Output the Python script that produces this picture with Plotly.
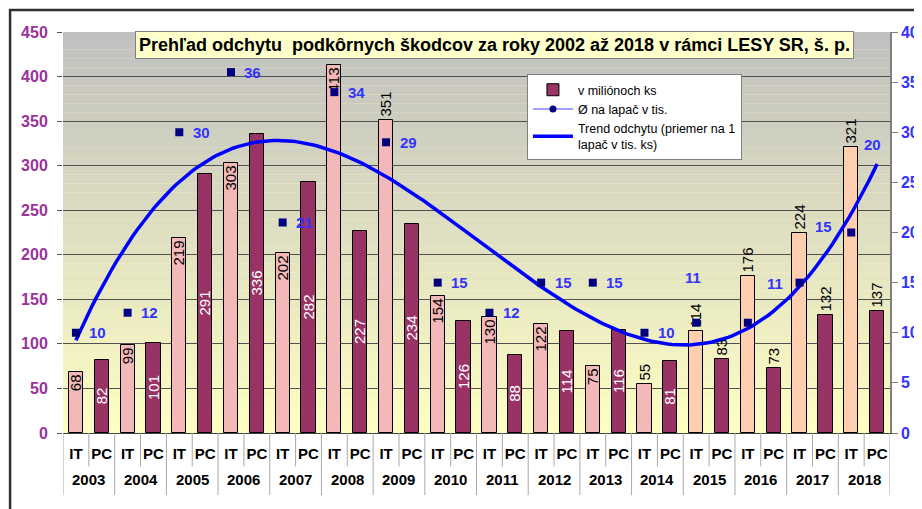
import numpy as np
import plotly.graph_objects as go

# ---------------- data ----------------
years = [str(y) for y in range(2003, 2019)]
sub_labels = ["IT", "PC"]
it_values = [68, 99, 219, 303, 202, 413, 351, 154, 130, 122, 75, 55, 114, 176, 224, 321]
pc_values = [82, 101, 291, 336, 282, 227, 234, 126, 88, 114, 116, 81, 83, 73, 132, 137]
per_trap = [10, 12, 30, 36, 21, 34, 29, 15, 12, 15, 15, 10, 11, 11, 15, 20]

title_text = "Prehľad odchytu\u00a0 podkôrnych škodcov za roky 2002 až 2018 v rámci LESY SR, š. p."
name_bars = "v miliónoch ks"
name_trap = "Ø na lapač v tis."
name_trend = "Trend odchytu (priemer na 1<br>lapač v tis. ks)"

# ---------------- styling ----------------
FONT = "Liberation Sans, Arial, sans-serif"
it_colors = ["#f3b9b9"] * 12 + ["#fdcfae"] * 4
pc_color = "#993366"
it_textpos = ["inside"] * 16
for i in (6, 11, 12, 13, 14, 15):
    it_textpos[i] = "outside"
pc_textpos = ["inside"] * 16
for i in (12, 13, 14, 15):
    pc_textpos[i] = "outside"
# pixel offsets of the per-trap labels relative to their markers
label_shift = [(22, 0)] * 12 + [(-3, 45), (27, 39), (24, 56), (21, 88)]

n = len(years)
# category slots: IT of year i at 2*i, PC of year i at 2*i+1
idx_it = [2 * i for i in range(n)]
idx_pc = [2 * i + 1 for i in range(n)]
tick_vals = list(range(2 * n))
tick_text = sub_labels * n

fig = go.Figure()

fig.add_trace(go.Bar(
    x=idx_it, y=it_values, name=name_bars, showlegend=False,
    marker=dict(color=it_colors, line=dict(color="#000000", width=1)),
    width=0.55, text=[str(v) for v in it_values], textposition=it_textpos,
    insidetextanchor="end", textangle=-90, constraintext="none",
    insidetextfont=dict(color="#000000", size=15, family=FONT),
    outsidetextfont=dict(color="#000000", size=15, family=FONT),
    cliponaxis=False, legendrank=1,
))
fig.add_trace(go.Bar(
    x=idx_pc, y=pc_values, name=name_bars, showlegend=True,
    marker=dict(color=pc_color, line=dict(color="#000000", width=1)),
    width=0.55, text=[str(v) for v in pc_values], textposition=pc_textpos,
    insidetextanchor="middle", textangle=-90, constraintext="none",
    insidetextfont=dict(color="#ffffff", size=15, family=FONT),
    outsidetextfont=dict(color="#000000", size=15, family=FONT),
    cliponaxis=False, legendrank=1,
))

# polynomial (3rd order) trend of the per-trap values
coef = np.polyfit(idx_it, per_trap, 3)
xt = np.linspace(0, 2 * n - 1, 200)
yt = np.polyval(coef, xt)
fig.add_trace(go.Scatter(
    x=xt, y=yt, yaxis="y2", mode="lines", name=name_trend,
    line=dict(color="#0000ff", width=3.5), legendrank=3,
))

fig.add_trace(go.Scatter(
    x=idx_it, y=per_trap, yaxis="y2", mode="markers",
    marker=dict(symbol="square", size=8, color="#000080"),
    name=name_trap, showlegend=False, cliponaxis=False,
))
# legend-only entry (line + marker)
fig.add_trace(go.Scatter(
    x=[None], y=[None], yaxis="y2", mode="lines+markers",
    marker=dict(symbol="circle", size=7, color="#000080"),
    line=dict(color="#8080ff", width=1.5),
    name=name_trap, showlegend=True, legendrank=2,
))

annotations = []
for i, v in enumerate(per_trap):
    dx, dy = label_shift[i]
    annotations.append(dict(
        x=idx_it[i], y=v, xref="x", yref="y2", text=str(v), showarrow=False,
        xshift=dx, yshift=dy, font=dict(color="#3333ff", size=15, family=FONT, weight="bold"),
    ))
# year labels (second row of the category axis)
for i, yr in enumerate(years):
    annotations.append(dict(
        x=2 * i + 0.5, y=0, xref="x", yref="paper", yanchor="middle", yshift=-46,
        text=yr, showarrow=False,
        font=dict(color="#000000", size=15, family=FONT, weight="bold"),
    ))
annotations.append(dict(
    x=0.522, y=0.968, xref="paper", yref="paper", text=title_text, showarrow=False,
    xanchor="center", yanchor="middle", bgcolor="#ffffcc", bordercolor="#808080",
    borderwidth=1, borderpad=3,
    font=dict(color="#000000", size=18, family=FONT, weight="bold"),
))

# gradient plot background (grey at top -> light yellow at bottom)
shapes = []
steps = 45
top = np.array([0xC0, 0xC0, 0xC0])
bot = np.array([0xFF, 0xFF, 0xC4])
for k in range(steps):
    t = (k + 0.5) / steps
    c = bot + (top - bot) * t
    shapes.append(dict(
        type="rect", xref="paper", yref="y", x0=0, x1=1,
        y0=450 * k / steps, y1=450 * (k + 1) / steps,
        fillcolor="rgb(%d,%d,%d)" % tuple(c.astype(int)), line=dict(width=0), layer="below",
    ))
# separators between IT and PC inside each year
for i in range(n):
    shapes.append(dict(
        type="line", xref="x", yref="paper", x0=2 * i + 0.5, x1=2 * i + 0.5,
        y0=0, y1=-0.083, line=dict(color="#a8a8a8", width=1),
    ))
# separators between years
for i in range(n + 1):
    shapes.append(dict(
        type="line", xref="x", yref="paper", x0=2 * i - 0.5, x1=2 * i - 0.5,
        y0=0, y1=-0.155, line=dict(color="#a8a8a8", width=1),
    ))
# outer frame
shapes.append(dict(
    type="rect", xref="paper", yref="paper", x0=-0.064, x1=1.2, y0=-0.4, y1=1.055,
    line=dict(color="#303030", width=2.5), fillcolor="rgba(0,0,0,0)", layer="above",
))

# the page body adds an 8 px offset; the figure is sized to fill the window from there
fig.update_layout(
    width=914, height=501,
    margin=dict(l=55, r=32, t=24, b=76, autoexpand=False),
    paper_bgcolor="#ffffff", plot_bgcolor="#ffffc4",
    font=dict(family=FONT, color="#000000"),
    barmode="overlay", bargap=0,
    shapes=shapes, annotations=annotations,
    legend=dict(
        x=0.561, y=0.895, xanchor="left", yanchor="top",
        bgcolor="#ffffff", bordercolor="#808080", borderwidth=1,
        font=dict(size=12.5, family=FONT, color="#000000"),
        traceorder="normal", itemwidth=40,
    ),
    xaxis=dict(
        range=[-0.5, 2 * n - 0.5], automargin=False,
        tickmode="array", tickvals=tick_vals, ticktext=tick_text,
        showline=True, linecolor="#404040", linewidth=1,
        ticks="", tickangle=0, ticklabelstandoff=7,
        tickfont=dict(size=15, family=FONT, color="#000000", weight="bold"),
        showgrid=False, zeroline=False,
    ),
    yaxis=dict(
        range=[0, 450], dtick=50, showgrid=True, gridcolor="#505050", gridwidth=1,
        zeroline=False, ticks="outside", ticklen=5, tickcolor="#505050",
        ticklabelstandoff=6, automargin=False,
        tickfont=dict(size=16, family=FONT, color="#993399", weight="bold"),
    ),
    yaxis2=dict(
        overlaying="y", side="right", range=[0, 40], dtick=5, showgrid=False,
        zeroline=False, showline=True, linecolor="#808080", linewidth=1.5,
        ticks="outside", ticklen=6, tickcolor="#808080", automargin=False,
        tickfont=dict(size=16, family=FONT, color="#3333ff", weight="bold"),
    ),
)

fig.write_html("out.html")
